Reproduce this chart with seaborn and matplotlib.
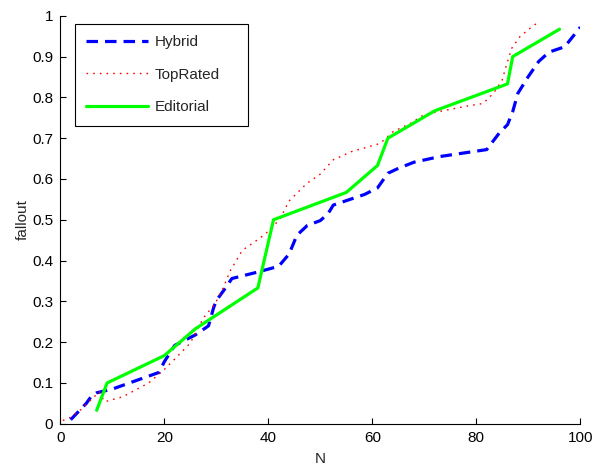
import numpy as np
import pandas as pd
import matplotlib
matplotlib.use("Agg")
import matplotlib.pyplot as plt
import seaborn as sns

# ---- data ----
hybrid_x = [2, 3.5, 5, 6, 7, 10, 19, 20, 22, 26, 28.5, 29.5, 30, 31.5, 33, 38, 42, 44, 45.5, 47.5,
            50, 51.5, 52.5, 58.5, 61, 63, 65, 68, 73, 82, 84.5, 86, 87, 88, 90, 92, 94, 97, 98, 100]
hybrid_y = [0.01, 0.03, 0.05, 0.068, 0.076, 0.085, 0.126, 0.152, 0.192, 0.218, 0.24, 0.285, 0.302, 0.328, 0.356, 0.372, 0.386, 0.416, 0.462, 0.486,
            0.498, 0.515, 0.536, 0.562, 0.578, 0.614, 0.626, 0.641, 0.655, 0.672, 0.714, 0.733, 0.765, 0.81, 0.851, 0.888, 0.911, 0.924, 0.94, 0.972]

toprated_x = [0.5, 2, 4, 6, 7.5, 8.5, 12, 17, 20, 22.5, 25, 27.5, 29.8, 31.3, 32.6, 35, 38.4, 40.3, 42.3, 44, 47.4,
              50, 52.5, 56, 61.5, 64, 67.3, 70, 77.5, 81.3, 83.3, 85, 85.6, 86.8, 88.4, 90.3, 92]
toprated_y = [0.008, 0.016, 0.035, 0.06, 0.078, 0.054, 0.066, 0.1, 0.133, 0.165, 0.198, 0.259, 0.295, 0.332, 0.373, 0.425, 0.455, 0.475, 0.503, 0.546, 0.589,
              0.612, 0.647, 0.667, 0.687, 0.716, 0.736, 0.758, 0.777, 0.785, 0.81, 0.843, 0.871, 0.92, 0.949, 0.969, 0.985]

editorial_x = [7, 9, 20, 26, 38, 41, 55, 61, 63, 72, 86, 87, 96]
editorial_y = [0.033, 0.1, 0.167, 0.233, 0.333, 0.5, 0.567, 0.633, 0.7, 0.767, 0.833, 0.9, 0.967]

x_ticks = [0, 20, 40, 60, 80, 100]
y_ticks = [0, 0.1, 0.2, 0.3, 0.4, 0.5, 0.6, 0.7, 0.8, 0.9, 1]
y_ticklabels = ["0", "0.1", "0.2", "0.3", "0.4", "0.5", "0.6", "0.7", "0.8", "0.9", "1"]

sns.set_style("white")
plt.rcParams['font.family'] = ['Liberation Sans', 'DejaVu Sans']
plt.rcParams['xtick.direction'] = 'in'
plt.rcParams['ytick.direction'] = 'in'

fig = plt.figure(figsize=(5.95, 4.69), dpi=100)
ax = fig.add_axes([0.1013, 0.0964, 0.874, 0.870])

sns.lineplot(x=hybrid_x, y=hybrid_y, ax=ax, sort=False, estimator=None,
             color=(0, 0, 1), linewidth=2.3, label="Hybrid")
sns.lineplot(x=toprated_x, y=toprated_y, ax=ax, sort=False, estimator=None,
             color=(1, 0, 0), linewidth=1.0, label="TopRated")
sns.lineplot(x=editorial_x, y=editorial_y, ax=ax, sort=False, estimator=None,
             color=(0, 1, 0), linewidth=2.3, label="Editorial")

lines = ax.get_lines()
lines[0].set_dashes([3.6, 2.2])
lines[1].set_dashes([1.2, 3.6])

ax.set_xlim(0, 100)
ax.set_ylim(0, 1)
ax.set_xticks(x_ticks)
ax.set_xticklabels([str(t) for t in x_ticks])
ax.set_yticks(y_ticks)
ax.set_yticklabels(y_ticklabels)
ax.tick_params(axis='both', labelsize=11, length=4.5, width=0.8, colors='black', pad=5,
               bottom=True, left=True, top=False, right=False)
ax.set_xlabel("N", fontsize=11, labelpad=5)
ax.set_ylabel("fallout", fontsize=11, labelpad=2)

for side in ['top', 'right']:
    ax.spines[side].set_visible(False)
for side in ['left', 'bottom']:
    ax.spines[side].set_color('black')
    ax.spines[side].set_linewidth(0.8)

leg = ax.legend(loc='upper left', bbox_to_anchor=(0.0283, 0.0, 0.333, 0.98), mode='expand',
                borderaxespad=0,
                fontsize=11, handlelength=4.0, labelspacing=1.2, handletextpad=0.45,
                borderpad=0.75, fancybox=False, frameon=True)
leg.get_frame().set_edgecolor('black')
leg.get_frame().set_linewidth(0.8)
leg.get_frame().set_alpha(1)

fig.savefig("out.png", dpi=100)
